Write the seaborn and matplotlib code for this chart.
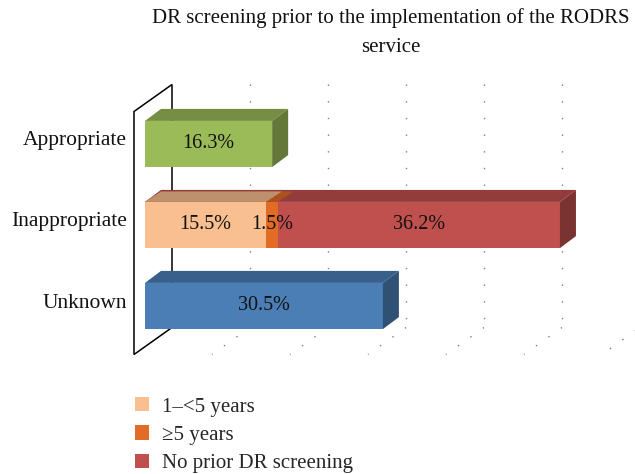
import matplotlib
matplotlib.use("Agg")
import matplotlib.pyplot as plt
import seaborn as sns
import pandas as pd
import numpy as np
from matplotlib.patches import Polygon, Patch
from matplotlib.lines import Line2D

# ---------------- data ----------------
categories = ["Appropriate", "Inappropriate", "Unknown"]
appropriate_pct = 16.3
unknown_pct = 30.5
inappropriate_series = ["1\u2013<5 years", "\u22655 years", "No prior DR screening"]
inappropriate_pct = [15.5, 1.5, 36.2]
grid_ticks = [10, 20, 30, 40, 50, 60]
title_text = "DR screening prior to the implementation of the RODRS\nservice"

# ---------------- style ----------------
col_green = "#9BBB59"
col_blue = "#4A7EB5"
series_colors = ["#F9BF90", "#E26B26", "#C0504D"]
FONT = ["Liberation Serif", "DejaVu Serif"]

sns.set_theme(style="white")
plt.rcParams["font.family"] = FONT

W, H = 635, 474
fig = plt.figure(figsize=(W / 100, H / 100), dpi=100)
ax = fig.add_axes([145 / W, (H - 360) / H, (W - 145) / W, 280 / H])

bar_h = 0.57

# cumulative layers for stacking (drawn largest first)
cum = np.cumsum(inappropriate_pct)
layer1 = pd.DataFrame({"category": categories,
                       "value": [appropriate_pct, cum[2], unknown_pct]})
pal1 = {categories[0]: col_green, categories[1]: series_colors[2], categories[2]: col_blue}
layer2 = pd.DataFrame({"category": [categories[1]], "value": [cum[1]]})
layer3 = pd.DataFrame({"category": [categories[1]], "value": [cum[0]]})

def set_limits():
    ax.set_xlim(0, (W - 145) / 7.8)
    ax.set_ylim(2 + 54 / 81, -64 / 81)

def off(dx, dy):
    """screen-pixel offset (dx right, dy up) -> data offset"""
    p0 = ax.transData.transform((0, 0))
    q = ax.transData.inverted().transform((p0[0] + dx, p0[1] + dy))
    return q[0], q[1]

def shade(c, f):
    r, g, b = matplotlib.colors.to_rgb(c)
    return (r * f, g * f, b * f)

def add_faces(patches, side=True):
    ox, oy = off(16, 12)
    for p in patches:
        x0, y0 = p.get_x(), p.get_y()
        x1, y1 = x0 + p.get_width(), y0 + p.get_height()
        fc = p.get_facecolor()
        top = Polygon([(x0, y0), (x1, y0), (x1 + ox, y0 + oy), (x0 + ox, y0 + oy)],
                      closed=True, facecolor=shade(fc, 0.76), edgecolor="none", zorder=3)
        ax.add_patch(top)
        if side:
            sd = Polygon([(x1, y0), (x1 + ox, y0 + oy), (x1 + ox, y1 + oy), (x1, y1)],
                         closed=True, facecolor=shade(fc, 0.64), edgecolor="none", zorder=3)
            ax.add_patch(sd)

def draw_layer(df, **kw):
    n = len(ax.patches)
    sns.barplot(data=df, x="value", y="category", order=categories, orient="h",
                width=bar_h, errorbar=None, dodge=False, linewidth=0, zorder=3,
                saturation=1, ax=ax, **kw)
    return list(ax.patches[n:])

p1 = draw_layer(layer1, hue="category", palette=pal1, legend=False)
set_limits()
# background: wall, back grid, floor lines
wf = off(-11, -8)
wb = off(27, 19)
wall = Polygon([(wf[0], -0.5 + wf[1]), (wb[0], -0.5 + wb[1]),
                (wb[0], 2.5 + wb[1]), (wf[0], 2.5 + wf[1])],
               closed=True, fill=False, edgecolor="black", linewidth=1.1,
               zorder=1, clip_on=False)
ax.add_patch(wall)
for t in grid_ticks:
    ax.add_line(Line2D([t + wb[0], t + wb[0]], [-0.5 + wb[1], 2.5 + wb[1]],
                       color="#7f7f7f", linewidth=1.0, linestyle=(0, (1, 11)),
                       zorder=1, clip_on=False))
    ax.add_line(Line2D([t + wb[0], t + wf[0]], [2.5 + wb[1], 2.5 + wf[1]],
                       color="#7f7f7f", linewidth=1.0, linestyle=(0, (1, 10)),
                       zorder=1, clip_on=False))

add_faces(p1, side=True)
p2 = draw_layer(layer2, color=series_colors[1])
add_faces(p2, side=False)
p3 = draw_layer(layer3, color=series_colors[0])
add_faces(p3, side=False)
set_limits()
ax.axis("off")

# data labels
lab_fs = 14.5
txt_col = "#111111"
ax.text(appropriate_pct / 2, 0, f"{appropriate_pct:.1f}%", ha="center", va="center",
        fontsize=lab_fs, color=txt_col, zorder=5)
ax.text(unknown_pct / 2, 2, f"{unknown_pct:.1f}%", ha="center", va="center",
        fontsize=lab_fs, color=txt_col, zorder=5)
lefts = np.concatenate([[0], cum[:-1]])
for l, v in zip(lefts, inappropriate_pct):
    ax.text(l + v / 2, 1, f"{v:.1f}%", ha="center", va="center",
            fontsize=lab_fs, color=txt_col, zorder=5)

# category labels
lx, ly = off(-18, 3)
for i, c in enumerate(categories):
    ax.text(lx, i + ly, c, ha="right", va="center", fontsize=15.5, color=txt_col,
            clip_on=False)

# title (two centred lines)
for k, line in enumerate(title_text.split("\n")):
    fig.text(391 / W, 1 - (18 + 30 * k) / H, line, ha="center", va="center",
             fontsize=15, color=txt_col)

# legend
handles = [Patch(facecolor=c, edgecolor="none") for c in series_colors]
fig.legend(handles, inappropriate_series, loc="upper left",
           bbox_to_anchor=(131 / W, 1 - 393 / H), frameon=False, fontsize=15,
           handlelength=0.68, handleheight=0.68, handletextpad=0.62,
           labelspacing=0.42, borderaxespad=0, borderpad=0.2)

fig.savefig("out.png", dpi=100)
